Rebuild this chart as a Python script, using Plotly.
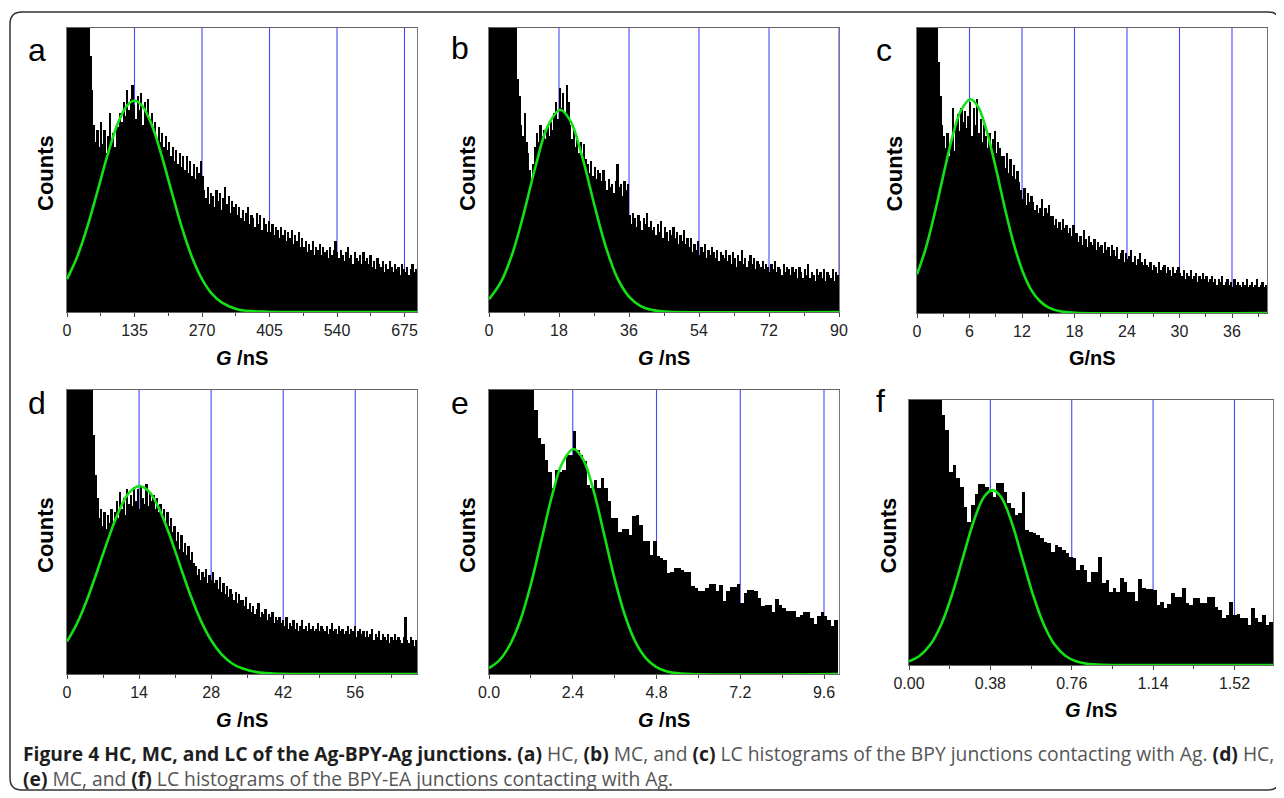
import plotly.graph_objects as go

# ---------------- data (heights as % of plot height) ----------------
a_bin = 3.5
a_counts = [300, 280, 260, 240, 220, 200, 180, 165, 150, 140, 130, 120, 110,
            90, 78,
            66, 60, 64, 58, 67,
            59, 64, 56, 62, 70, 60, 63, 58, 66,
            65, 70, 67, 74, 69, 78, 71, 75, 80,
            73, 68, 76, 71, 77, 66, 74, 70, 75, 68,
            70, 64, 67, 61, 65, 60, 63, 58, 62, 57,
            60, 55, 58, 53, 57, 52, 56, 51, 55,
            50, 55, 49, 53, 48, 52, 47, 51, 49, 53, 48,
            43, 40, 44, 38, 42, 41, 37, 43,
            39, 42, 36, 40, 44, 38, 41, 35, 39, 37,
            38, 34, 37, 33, 36, 32, 35, 37, 31, 34, 33, 30, 35, 31, 34, 29, 33, 31, 28,
            32, 28, 31, 27, 30, 29, 26, 30, 27, 29, 25, 28, 26, 29, 24, 27, 25, 28, 23,
            26, 23, 25, 21, 24, 22, 25, 20, 23, 22, 24, 20, 23, 21, 22, 19, 23, 20, 22,
            25, 21, 19, 22, 20, 18, 21, 23, 19, 20, 17, 21, 19, 18, 20, 17, 21, 18, 19,
            17, 20, 16, 18, 15, 19, 17, 16, 18, 14, 17, 15, 18, 16, 14, 17, 15, 16, 13, 17,
            15, 14, 16, 13, 15, 17, 14, 15]
a_fit_x = [0, 20, 40, 60, 80, 100, 120, 135, 150, 170, 190, 210, 230, 250, 270, 290, 310, 340, 370, 400, 700]
a_fit_y = [11.6, 19.3, 29.6, 41.9, 54.6, 65.7, 72.7, 74.4, 72.7, 65.7, 54.6, 41.9, 29.6, 19.3, 11.6, 6.4, 3.3, 1.0, 0.3, 0.1, 0]
a_ticks = [0, 135, 270, 405, 540, 675]

b_bin = 0.45
b_counts = [300, 285, 270, 255, 240, 225, 210, 195, 180, 165, 150, 140, 130, 120, 110, 104,
            82, 76,
            66, 62, 70, 60,
            56, 50, 45, 52,
            58, 63, 60, 66, 62, 64, 61,
            65, 62, 67, 64,
            70, 74, 68, 79, 72, 77, 70, 80, 74,
            66, 61, 64, 58, 62, 56, 60, 55, 59, 54,
            52, 49, 53, 48, 51, 47, 50, 49, 46, 50,
            46, 43, 47, 44, 45, 42, 46, 52, 44, 45, 41, 46, 43, 45,
            34, 31, 35, 33, 30, 34, 32, 29, 33, 31, 35, 30, 32, 29,
            30, 27, 31, 28, 32, 26, 30, 28, 25, 29, 27, 30, 26, 28, 24, 27, 25, 29, 24, 26,
            23, 26, 21, 24, 22, 25, 20, 23, 21, 24, 19, 22, 20, 23, 21, 19, 22, 18, 21, 20,
            19, 22, 18, 20, 17, 21, 19, 16, 20, 18, 22, 17, 19, 16, 18, 20, 17, 19, 15, 18, 17, 16,
            18, 15, 17, 16, 14, 17, 15, 18, 14, 16, 15, 13, 17, 14, 16, 15, 13, 16, 14, 15, 12, 16,
            14, 12, 15, 13, 17, 12, 14, 13, 11, 15, 13, 14, 12, 15, 11, 14, 13, 12, 15, 11, 14, 13]
b_fit_x = [0, 3, 6, 9, 12, 15, 18.3, 21, 24, 27, 30, 33, 36, 39, 42, 45, 90]
b_fit_y = [4.5, 10.4, 20.5, 35.0, 51.4, 65.1, 71.2, 67.1, 54.5, 38.2, 23.1, 12.0, 5.4, 2.1, 0.7, 0.2, 0]
b_ticks = [0, 18, 36, 54, 72, 90]

c_bin = 0.2
c_counts = [300, 280, 260, 240, 220, 200, 180, 165, 150, 135, 120, 105,
            88, 76, 66, 62,
            58, 63, 55, 60, 72, 57,
            66, 70, 64, 72, 67, 71, 65,
            69, 74, 62, 72, 66, 75, 63, 68, 60, 66,
            62, 58, 63, 57, 61, 64, 56, 60, 58, 55,
            55, 51, 56, 49, 54, 48, 52, 47, 50, 46,
            43, 40, 44, 38, 42, 39, 41,
            39, 36, 38, 35, 37, 40, 34, 37, 35, 38, 34,
            34, 31, 33, 30, 32, 29, 33, 30, 31, 28, 30, 27, 31, 28,
            28, 25, 27, 24, 29, 26, 23, 27, 25, 24, 26, 22, 25, 23, 24, 21, 25, 22, 23, 20, 24,
            22, 20, 23, 19, 21, 22, 18, 21, 19, 20, 22, 18, 20, 17, 19, 21, 18, 17, 19,
            17, 16, 18, 15, 17, 16, 14, 18, 15, 16, 17, 14, 16, 15, 13, 16, 14, 15, 16,
            14, 13, 15, 12, 14, 13, 15, 12, 13, 14, 11, 13, 12, 14, 12, 13, 11, 12, 13,
            11, 12, 10, 12, 11, 13, 10, 11, 12, 10, 11, 9, 12, 10, 11, 10, 9, 11, 10, 12,
            9, 10, 11, 9, 10, 12, 9, 10, 11, 9, 10]
c_fit_x = [0, 1, 2, 3, 4, 5, 6.1, 7, 8, 9, 10, 11, 12, 13, 14, 15, 16.5, 18, 40]
c_fit_y = [13.6, 22.7, 34.7, 48.2, 61.3, 70.9, 75.0, 72.3, 63.5, 51.0, 37.3, 24.9, 15.2, 8.4, 4.3, 2.0, 0.5, 0.1, 0]
c_ticks = [0, 6, 12, 18, 24, 30, 36]

d_bin = 0.34
d_counts = [300, 285, 270, 255, 240, 225, 210, 195, 180, 165, 150, 135, 120, 110, 102,
            84, 70, 62,
            55, 58, 52, 57, 51, 56, 53, 58, 52,
            57, 61, 55, 64, 58, 62, 56, 65, 60, 63, 59, 66,
            61, 65, 58, 66, 62, 60, 67, 59, 64, 61, 63, 58, 62, 57,
            60, 55, 58, 53, 57, 52, 55, 50,
            52, 47, 50, 44, 49, 43, 46, 42, 45, 40, 43, 39,
            38, 35, 37, 33, 36, 34, 37, 32, 35, 33, 36, 32,
            33, 30, 34, 29, 32, 28, 31, 27, 30, 28, 26, 29, 25, 28, 26,
            26, 24, 27, 23, 25, 22, 24, 21, 23, 25, 20, 22, 21, 23, 19, 21, 20, 22, 18, 20, 19,
            20, 18, 19, 17, 20, 16, 18, 17, 19, 16, 18, 15, 17, 19, 16, 17, 15, 18, 16, 17, 15, 16, 18, 15, 17,
            16, 15, 17, 14, 16, 18, 15, 16, 14, 17, 15, 16, 14, 15, 17, 14, 16, 15, 17, 13, 15, 16, 14, 15, 13,
            15, 13, 14, 16, 12, 14, 13, 15, 12, 14, 13, 12, 14, 11, 13, 12, 14, 12, 13, 12, 11, 13, 20, 12, 11,
            13, 12, 10, 12]
d_fit_x = [0, 2, 4, 6, 8, 10, 12, 14.1, 16, 18, 20, 22, 24, 26, 28, 30, 32, 34, 37, 40, 68]
d_fit_y = [11.4, 18.0, 26.7, 36.9, 47.5, 57.0, 63.7, 66.2, 64.1, 57.8, 48.6, 38.0, 27.7, 18.8, 11.9, 7.0, 3.8, 2.0, 0.6, 0.2, 0]
d_ticks = [0, 14, 28, 42, 56]

e_bin = 0.1
e_counts = [170, 165, 160, 155, 150, 145, 140, 135, 130, 125, 120, 115, 110, 93, 83, 81, 75.5, 71, 65.5, 72,
            71, 72, 77, 77, 85.4, 79, 77, 75, 66.7, 65.5, 68.4, 65.5, 69, 65.5, 60.8, 55, 55, 50, 51, 51,
            49, 55.5, 56, 52.6, 46.7, 46.7, 42, 46.7, 41.4, 41, 40, 35.6, 36, 37.3, 37.3, 36.7, 36, 36, 30.9, 30.3,
            29.1, 29.1, 30.3, 31.7, 31.7, 29.1, 31.2, 25.6, 29.1, 30.6, 30.6, 31.7, 25, 28.5, 29.7, 29.7, 29.1, 26.8, 23.8, 24.2,
            24.2, 22, 26.5, 24.4, 23.2, 22.3, 22.3, 22.3, 20, 20.9, 21.8, 21.8, 19.7, 17.6, 20.3, 21.8, 20.3, 19.1, 16.8, 19.1]
e_fit_x = [0, 0.3, 0.6, 0.9, 1.2, 1.5, 1.8, 2.1, 2.42, 2.7, 3.0, 3.3, 3.6, 3.9, 4.2, 4.5, 4.8, 5.1, 5.5, 10]
e_fit_y = [2.1, 4.9, 10.3, 19.0, 31.6, 47.0, 62.5, 74.3, 79.2, 75.5, 64.4, 49.1, 33.5, 20.5, 11.2, 5.5, 2.4, 0.9, 0.2, 0]
e_ticks = [0.0, 2.4, 4.8, 7.2, 9.6]

f_bin = 0.017
f_counts = [170, 160, 150, 145, 140, 135, 130, 120, 110, 94.3, 88.7, 73, 75.5, 70.4, 67.3, 59.7, 54.1, 60.4, 64.4, 68.2,
            68.2, 67.3, 65.4, 63.5, 68.6, 68.6, 65.4, 61, 59.1, 56.6, 57.2, 65.4, 50.9, 50.3, 49.7, 49.1, 48, 46.5, 45.9, 42.8,
            45.3, 44.7, 43.4, 42.1, 40.9, 40.3, 35.8, 37.7, 35.8, 31.4, 35.2, 35.2, 40.9, 30.8, 32.1, 27.7, 28.9, 27.7, 33, 31.4,
            27.7, 27.7, 24.2, 32.5, 28.9, 28.7, 28.7, 28.3, 22.6, 23.6, 21.4, 22.9, 27, 25.8, 25.8, 29.2, 23.3, 22.6, 25.2, 25.2,
            23.3, 23.3, 25.8, 25.8, 22, 20.8, 17.9, 18.9, 23.9, 18.9, 19.1, 17.6, 17.6, 15.1, 21.4, 17.6, 16.4, 18.9, 15.1, 16.4]
f_fit_x = [0, 0.05, 0.1, 0.15, 0.2, 0.25, 0.3, 0.35, 0.39, 0.43, 0.48, 0.53, 0.58, 0.63, 0.68, 0.73, 0.78, 0.84, 0.9, 1.7]
f_fit_y = [1.4, 3.5, 7.7, 15.2, 26.3, 40.0, 53.7, 63.4, 66.0, 63.4, 53.7, 40.0, 26.3, 15.2, 7.7, 3.5, 1.4, 0.35, 0.1, 0]
f_ticks = [0.0, 0.38, 0.76, 1.14, 1.52]

panel_letters = ["a", "b", "c", "d", "e", "f"]
x_titles = ["<b><i>G</i> /nS</b>", "<b><i>G</i> /nS</b>", "<b>G/nS</b>",
            "<b><i>G</i> /nS</b>", "<b><i>G</i> /nS</b>", "<b><i>G</i> /nS</b>"]
y_title = "Counts"
caption_1 = ("<b style='color:#1e1e1e'>Figure 4 HC, MC, and LC of the Ag-BPY-Ag junctions.</b> "
             "<b style='color:#1e1e1e'>(a)</b> HC, <b style='color:#1e1e1e'>(b)</b> MC, and "
             "<b style='color:#1e1e1e'>(c)</b> LC histograms of the BPY junctions contacting with Ag. "
             "<b style='color:#1e1e1e'>(d)</b> HC,")
caption_2 = ("<b style='color:#1e1e1e'>(e)</b> MC, and <b style='color:#1e1e1e'>(f)</b> LC histograms "
             "of the BPY-EA junctions contacting with Ag.")

# ---------------- layout helpers (page body has an 8px margin) ----------------
OFF = 8
W, H = 1284 - OFF, 798 - OFF

def fx(p):
    return (p - OFF) / W

def fy(p):
    return 1 - (p - OFF) / H

panels = [
    dict(bin=a_bin, counts=a_counts, fx_=a_fit_x, fy_=a_fit_y, ticks=a_ticks, xmax=700, fmt="d",
         box=(67, 417, 28, 312), letter=(37, 50), counts_x=45, title_y=358),
    dict(bin=b_bin, counts=b_counts, fx_=b_fit_x, fy_=b_fit_y, ticks=b_ticks, xmax=90, fmt="d",
         box=(489, 839, 28, 312), letter=(460, 48), counts_x=467, title_y=358),
    dict(bin=c_bin, counts=c_counts, fx_=c_fit_x, fy_=c_fit_y, ticks=c_ticks, xmax=40, fmt="d",
         box=(917, 1267, 28, 313), letter=(884, 50), counts_x=894, title_y=358),
    dict(bin=d_bin, counts=d_counts, fx_=d_fit_x, fy_=d_fit_y, ticks=d_ticks, xmax=68, fmt="d",
         box=(67, 417, 390, 674), letter=(37, 403), counts_x=45, title_y=720),
    dict(bin=e_bin, counts=e_counts, fx_=e_fit_x, fy_=e_fit_y, ticks=e_ticks, xmax=10.03, fmt=".1f",
         box=(489, 839, 390, 674), letter=(460, 403), counts_x=467, title_y=720),
    dict(bin=f_bin, counts=f_counts, fx_=f_fit_x, fy_=f_fit_y, ticks=f_ticks, xmax=1.70, fmt=".2f",
         box=(909, 1273, 400, 665), letter=(880, 401), counts_x=888, title_y=710),
]

fig = go.Figure()
annotations = []
shapes = []
BLUE = "#4646ff"
GREEN = "#14e014"
FONT = "Liberation Sans, Arial, sans-serif"

for i, p in enumerate(panels):
    n = "" if i == 0 else str(i + 1)
    xa, ya = "x" + n, "y" + n
    centers = [p["bin"] * (k + 0.5) for k in range(len(p["counts"]))]
    fig.add_trace(go.Bar(x=centers, y=p["counts"], width=p["bin"], xaxis=xa, yaxis=ya,
                         marker=dict(color="black", line=dict(width=0)), showlegend=False,
                         hoverinfo="skip"))
    fig.add_trace(go.Scatter(x=p["fx_"], y=p["fy_"], xaxis=xa, yaxis=ya, mode="lines",
                             line=dict(color=GREEN, width=2.6, shape="spline", smoothing=1.0),
                             showlegend=False, hoverinfo="skip"))
    for t in p["ticks"][1:]:
        shapes.append(dict(type="line", xref=xa, yref=ya + " domain", x0=t, x1=t, y0=0, y1=1,
                           line=dict(color=BLUE, width=1.1), layer="below"))
    x0, x1, y0, y1 = p["box"]
    step = p["ticks"][1] - p["ticks"][0]
    fig.layout["xaxis" + n] = dict(
        domain=[fx(x0), fx(x1)], anchor=ya, range=[0, p["xmax"]], automargin=False,
        tickmode="array", tickvals=p["ticks"],
        ticktext=[format(t, p["fmt"]) if p["fmt"] != "d" else str(int(t)) for t in p["ticks"]],
        ticks="outside", ticklen=4, tickcolor="#444", tickwidth=1,
        minor=dict(dtick=step / 2, tick0=0, ticks="outside", ticklen=3, tickcolor="#444", showgrid=False),
        showgrid=False,
        showline=True, linecolor="#666", linewidth=1, mirror=True,
        zeroline=False, tickfont=dict(family=FONT, size=16, color="#222"),
        fixedrange=True,
    )
    fig.layout["yaxis" + n] = dict(
        domain=[fy(y1), fy(y0)], anchor=xa, range=[0, 100], automargin=False,
        showticklabels=False, ticks="", showgrid=False, zeroline=False,
        showline=True, linecolor="#777", linewidth=1, mirror=True, fixedrange=True,
    )
    annotations.append(dict(x=fx(p["letter"][0]), y=fy(p["letter"][1]), xref="paper", yref="paper",
                            text=panel_letters[i], showarrow=False, xanchor="center", yanchor="middle",
                            font=dict(family=FONT, size=32, color="black")))
    annotations.append(dict(x=fx(p["counts_x"]), y=fy((y0 + y1) / 2 + 3), xref="paper", yref="paper",
                            text="<b>" + y_title + "</b>", textangle=-90, showarrow=False,
                            xanchor="center", yanchor="middle",
                            font=dict(family=FONT, size=22, color="black")))
    annotations.append(dict(x=fx((x0 + x1) / 2), y=fy(p["title_y"]), xref="paper", yref="paper",
                            text=x_titles[i], showarrow=False, xanchor="center", yanchor="middle",
                            font=dict(family=FONT, size=20, color="black")))

CAP_FONT = "Open Sans, sans-serif"
annotations.append(dict(x=fx(21), y=fy(766), xref="paper", yref="paper",
                        text=caption_1 + "<br>" + caption_2,
                        showarrow=False, xanchor="left", yanchor="middle", align="left",
                        font=dict(family=CAP_FONT, size=19.3, color="#555555")))

# rounded outer border
r = 12
L, R, T, B = 10, 1280, 12, 790
path = (f"M {fx(L + r)} {fy(T)} L {fx(R - r)} {fy(T)} Q {fx(R)} {fy(T)} {fx(R)} {fy(T + r)} "
        f"L {fx(R)} {fy(B - r)} Q {fx(R)} {fy(B)} {fx(R - r)} {fy(B)} "
        f"L {fx(L + r)} {fy(B)} Q {fx(L)} {fy(B)} {fx(L)} {fy(B - r)} "
        f"L {fx(L)} {fy(T + r)} Q {fx(L)} {fy(T)} {fx(L + r)} {fy(T)} Z")
shapes.append(dict(type="path", path=path, xref="paper", yref="paper",
                   line=dict(color="#333", width=1.5), layer="below"))

fig.update_layout(
    width=W, height=H, margin=dict(l=0, r=0, t=0, b=0, pad=0), autosize=False,
    paper_bgcolor="white", plot_bgcolor="white",
    barmode="overlay", bargap=0,
    annotations=annotations,
    shapes=shapes,
    font=dict(family=FONT),
)

fig.write_html("out.html")
